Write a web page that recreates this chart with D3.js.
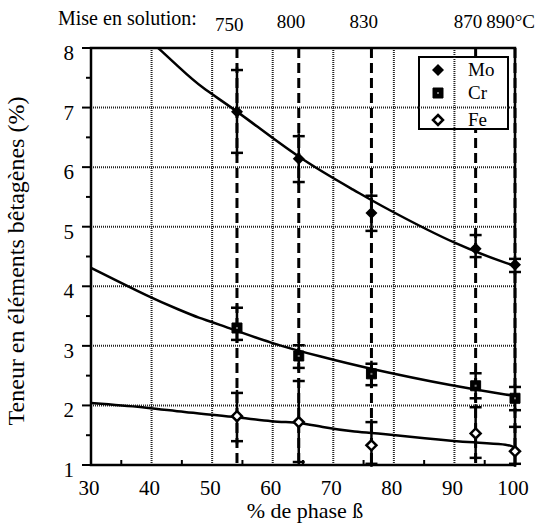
<!DOCTYPE html>
<html>
<head>
<meta charset="utf-8">
<script src="https://cdn.jsdelivr.net/npm/d3@7"></script>
<style>
  body { margin: 0; background: #fff; }
</style>
</head>
<body>
<div id="chart"></div>
<script>
// positions of the solution treatments (% phase beta) and their temperatures
const phaseX = [54.1, 64.3, 76.3, 93.5, 100];
const tempLabels = ["750", "800", "830", "870", "890°C"];

// measured points + error bars
const moY = [6.93, 6.14, 5.23, 4.63, 4.36];
const moHi = [7.63, 6.52, 5.52, 4.86, 4.46];
const moLo = [6.24, 5.75, 4.93, 4.49, 4.24];
const crY = [3.30, 2.83, 2.53, 2.33, 2.12];
const crHi = [3.64, 3.01, 2.70, 2.54, 2.31];
const crLo = [3.10, 2.63, 2.34, 2.12, 1.92];
const feY = [1.82, 1.72, 1.33, 1.53, 1.23];
const feHi = [2.21, 2.41, 1.72, 1.97, 1.64];
const feLo = [1.40, 1.05, 1.02, 1.12, 1.02];

// fitted curves
const moFitX = [41.1, 44.7, 48.0, 54.1, 64.3, 74.4, 77.7, 90.9, 100];
const moFitY = [8.0, 7.66, 7.35, 6.95, 6.14, 5.56, 5.36, 4.66, 4.34];
const crFitX = [30, 40, 44.7, 48, 50.1, 60, 68.3, 74.4, 90.4, 100];
const crFitY = [4.31, 3.80, 3.60, 3.46, 3.40, 3.03, 2.81, 2.65, 2.31, 2.16];
const feFitX = [30, 40, 44.7, 54, 60, 64.5, 67.8, 73.9, 77.7, 84.8, 93.7, 99.2, 100];
const feFitY = [2.04, 1.96, 1.89, 1.81, 1.72, 1.72, 1.64, 1.55, 1.53, 1.45, 1.37, 1.35, 1.28];

const xTicks = [30, 40, 50, 60, 70, 80, 90, 100];
const yTicks = [1, 2, 3, 4, 5, 6, 7, 8];
const legendNames = ["Mo", "Cr", "Fe"];

const W = 536, H = 523;
const margin = { top: 48, right: 21, bottom: 58, left: 91 };
const width = W - margin.left - margin.right;
const height = H - margin.top - margin.bottom;
const serif = "'Liberation Serif', 'DejaVu Serif', serif";

const svg = d3.select("#chart").append("svg")
  .attr("width", W).attr("height", H)
  .attr("font-family", serif);

const g = svg.append("g")
  .attr("transform", `translate(${margin.left},${margin.top})`);

const x = d3.scaleLinear().domain([30, 100]).range([0, width]);
const y = d3.scaleLinear().domain([1, 8]).range([height, 0]);

// dotted grid
g.selectAll(".gx").data(xTicks.slice(1, -1)).enter().append("line")
  .attr("x1", d => x(d)).attr("x2", d => x(d))
  .attr("y1", 0).attr("y2", height)
  .attr("stroke", "#222").attr("stroke-width", 2).attr("stroke-dasharray", "1,1");
g.selectAll(".gy").data(yTicks.slice(1, -1)).enter().append("line")
  .attr("y1", d => y(d)).attr("y2", d => y(d))
  .attr("x1", 0).attr("x2", width)
  .attr("stroke", "#222").attr("stroke-width", 2).attr("stroke-dasharray", "1,1");

// dashed treatment lines
g.selectAll(".dash").data(phaseX).enter().append("line")
  .attr("x1", d => x(d)).attr("x2", d => x(d))
  .attr("y1", 0).attr("y2", height)
  .attr("stroke", "#000").attr("stroke-width", 3).attr("stroke-dasharray", "10,5");

// frame
g.append("rect").attr("width", width).attr("height", height)
  .attr("fill", "none").attr("stroke", "#000").attr("stroke-width", 2.5);

// y ticks (major out, minor out)
g.selectAll(".ytm").data(yTicks).enter().append("line")
  .attr("x1", -9).attr("x2", 0)
  .attr("y1", d => y(d)).attr("y2", d => y(d))
  .attr("stroke", "#000").attr("stroke-width", 2);
g.selectAll(".ytn").data(yTicks.slice(0, -1).map(d => d + 0.5)).enter().append("line")
  .attr("x1", -5).attr("x2", 0)
  .attr("y1", d => y(d)).attr("y2", d => y(d))
  .attr("stroke", "#000").attr("stroke-width", 2);
// x minor ticks inside
g.selectAll(".xtn").data(xTicks.slice(0, -1).map(d => d + 5)).enter().append("line")
  .attr("x1", d => x(d)).attr("x2", d => x(d))
  .attr("y1", height).attr("y2", height - 5)
  .attr("stroke", "#000").attr("stroke-width", 2);

g.selectAll(".yl").data(yTicks).enter().append("text")
  .attr("x", -17).attr("y", d => y(d) + 12)
  .attr("text-anchor", "end").attr("font-size", 21)
  .text(d => d);
g.selectAll(".xl").data(xTicks).enter().append("text")
  .attr("x", d => x(d) - 2).attr("y", height + 30)
  .attr("text-anchor", "middle").attr("font-size", 21)
  .text(d => d);

// fitted curves
const line = d3.line().x(d => x(d[0])).y(d => y(d[1])).curve(d3.curveBasis);
[[moFitX, moFitY], [crFitX, crFitY], [feFitX, feFitY]].forEach(([xs, ys]) => {
  g.append("path")
    .datum(xs.map((v, i) => [v, ys[i]]))
    .attr("d", line)
    .attr("fill", "none").attr("stroke", "#000").attr("stroke-width", 2.5);
});

// error bars
function errorBars(vals, hi, lo) {
  const eb = g.append("g");
  phaseX.forEach((px, i) => {
    eb.append("line")
      .attr("x1", x(px)).attr("x2", x(px))
      .attr("y1", y(hi[i]) - 3).attr("y2", y(lo[i]) + 3)
      .attr("stroke", "#000").attr("stroke-width", 2.5);
    [hi[i], lo[i]].forEach(v => {
      eb.append("line")
        .attr("x1", x(px) - 6).attr("x2", x(px) + 6)
        .attr("y1", y(v)).attr("y2", y(v))
        .attr("stroke", "#000").attr("stroke-width", 2.5);
    });
  });
}
errorBars(moY, moHi, moLo);
errorBars(crY, crHi, crLo);
errorBars(feY, feHi, feLo);

const diamond = "M0,-6L6,0L0,6L-6,0Z";
const square = "M-5,-5H5V5H-5Z";

function drawMarker(sel, kind) {
  if (kind === "Mo") {
    sel.append("path").attr("d", diamond).attr("fill", "#000");
  } else if (kind === "Cr") {
    sel.append("path").attr("d", square).attr("fill", "#000").attr("stroke", "#000").attr("stroke-width", 1);
    sel.append("rect").attr("x", -1).attr("y", -1).attr("width", 2).attr("height", 2).attr("fill", "#777");
  } else {
    sel.append("path").attr("d", "M0,-5L5,0L0,5L-5,0Z")
      .attr("fill", "#fff").attr("stroke", "#000").attr("stroke-width", 2.5);
  }
}

[[moY, "Mo"], [crY, "Cr"], [feY, "Fe"]].forEach(([vals, kind]) => {
  vals.forEach((v, i) => {
    const m = g.append("g").attr("transform", `translate(${x(phaseX[i])},${y(v)})`);
    drawMarker(m, kind);
  });
});

// legend
const lg = svg.append("g").attr("transform", "translate(419,57)");
lg.append("rect").attr("width", 89).attr("height", 72)
  .attr("fill", "#fff").attr("stroke", "#000").attr("stroke-width", 2);
// grid lines pass through the legend box in the original
lg.append("line").attr("x1", x(90) + margin.left - 419).attr("x2", x(90) + margin.left - 419)
  .attr("y1", 0).attr("y2", 72)
  .attr("stroke", "#222").attr("stroke-width", 2).attr("stroke-dasharray", "1,1");
lg.append("line").attr("x1", 0).attr("x2", 89)
  .attr("y1", y(7) + margin.top - 57).attr("y2", y(7) + margin.top - 57)
  .attr("stroke", "#222").attr("stroke-width", 2).attr("stroke-dasharray", "1,1");
legendNames.forEach((name, i) => {
  const yy = [13, 36, 63][i];
  const m = lg.append("g").attr("transform", `translate(19,${yy})`);
  drawMarker(m, name);
  lg.append("text").attr("x", 49).attr("y", yy + 6)
    .attr("font-size", 19).text(name);
});

// top labels
svg.append("text").attr("x", 58).attr("y", 25).attr("font-size", 20)
  .text("Mise en solution:");
svg.selectAll(".tl").data(tempLabels).enter().append("text")
  .attr("x", (d, i) => i === tempLabels.length - 1 ? W - 1 : margin.left + x(phaseX[i]) - 22)
  .attr("text-anchor", (d, i) => i === tempLabels.length - 1 ? "end" : "start")
  .attr("y", (d, i) => i === 0 ? 31 : 28)
  .attr("font-size", 19)
  .text(d => d);

// axis titles
svg.append("text")
  .attr("x", 305).attr("y", 518)
  .attr("text-anchor", "middle").attr("font-size", 22)
  .text("% de phase ß");
svg.append("text")
  .attr("transform", "translate(24,261) rotate(-90)")
  .attr("text-anchor", "middle").attr("font-size", 24)
  .text("Teneur en éléments bêtagènes (%)");
</script>
</body>
</html>
